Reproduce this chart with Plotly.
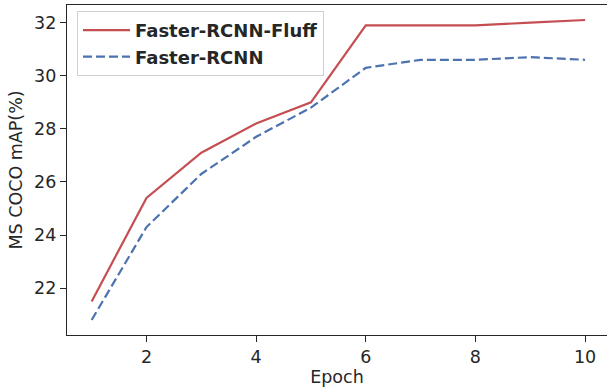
import plotly.graph_objects as go

epochs = [1, 2, 3, 4, 5, 6, 7, 8, 9, 10]
fluff = [21.5, 25.4, 27.1, 28.2, 29.0, 31.9, 31.9, 31.9, 32.0, 32.1]
baseline = [20.8, 24.3, 26.3, 27.7, 28.8, 30.3, 30.6, 30.6, 30.7, 30.6]
series_names = ["Faster-RCNN-Fluff", "Faster-RCNN"]
x_ticks = [2, 4, 6, 8, 10]
y_ticks = [22, 24, 26, 28, 30, 32]

fig = go.Figure()
fig.add_trace(go.Scatter(x=epochs, y=fluff, mode="lines", name=series_names[0],
                         line=dict(color="#C44E52", width=2.2)))
fig.add_trace(go.Scatter(x=epochs, y=baseline, mode="lines", name=series_names[1],
                         line=dict(color="#4C72B0", width=2.2, dash="9px,4px")))

axis_common = dict(showline=True, linecolor="#262626", linewidth=1.4,
                   ticks="outside", ticklen=6, tickwidth=1.2, tickcolor="#262626",
                   showgrid=False, zeroline=False,
                   tickfont=dict(family="DejaVu Sans", size=17.5, color="#262626"))

fig.update_layout(
    width=607, height=387,
    margin=dict(l=67, r=0, t=5, b=52),
    paper_bgcolor="white", plot_bgcolor="white",
    font=dict(family="DejaVu Sans", size=17.5, color="#262626"),
    xaxis=dict(range=[0.55, 10.40], tickvals=x_ticks, mirror=True,
               title=dict(text="Epoch", font=dict(size=17.5), standoff=2), **axis_common),
    yaxis=dict(range=[20.235, 32.665], tickvals=y_ticks, mirror=False,
               title=dict(text="MS COCO mAP(%)", font=dict(size=17.5), standoff=6), **axis_common),
    legend=dict(x=0.0185, y=0.982, xanchor="left", yanchor="top",
                bgcolor="rgba(255,255,255,0.8)", bordercolor="#d0d0d0", borderwidth=1,
                font=dict(family="DejaVu Sans", size=18, color="#262626", weight="bold"),
                tracegroupgap=0, itemwidth=47),
    showlegend=True,
)

fig.write_html("out.html")
